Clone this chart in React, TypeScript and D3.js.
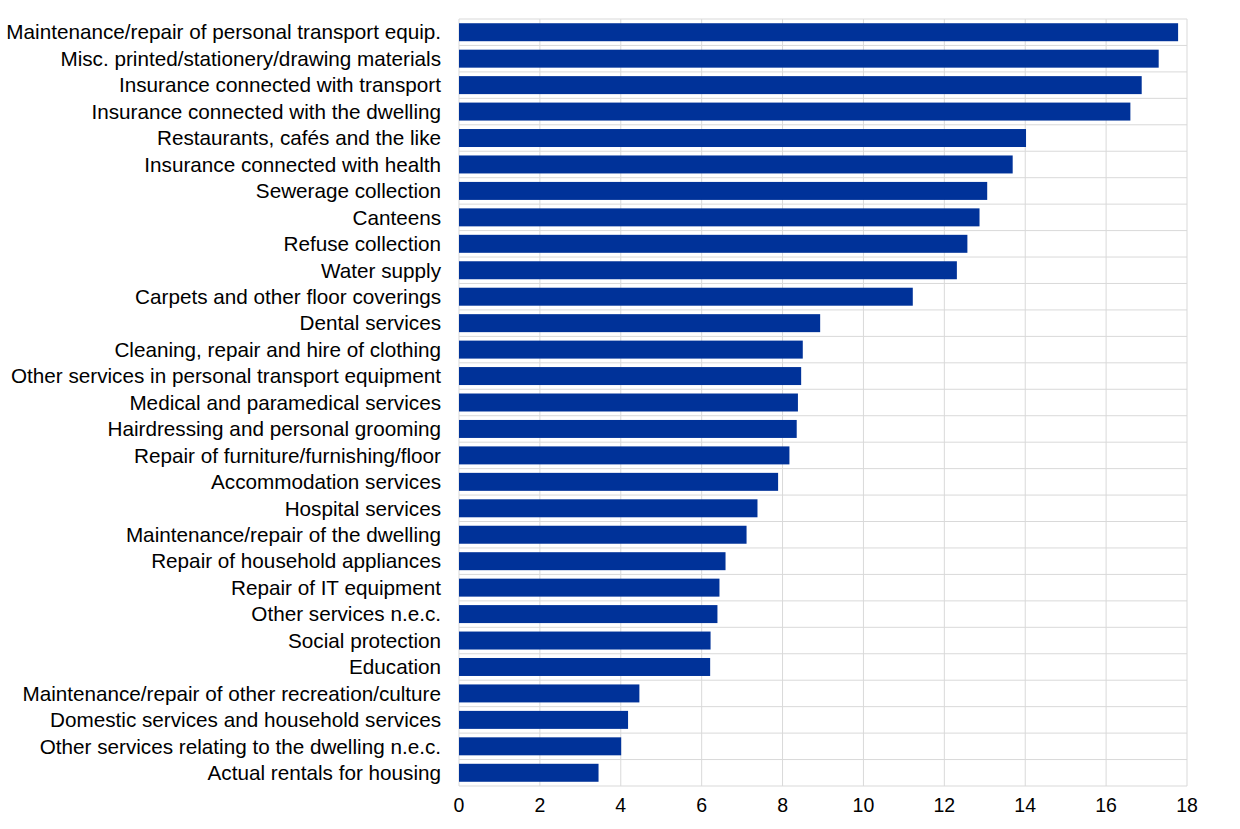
import React from "react";
import * as d3 from "d3";

const categories = [
  "Maintenance/repair of personal transport equip.",
  "Misc. printed/stationery/drawing materials",
  "Insurance connected with transport",
  "Insurance connected with the dwelling",
  "Restaurants, cafés and the like",
  "Insurance connected with health",
  "Sewerage collection",
  "Canteens",
  "Refuse collection",
  "Water supply",
  "Carpets and other floor coverings",
  "Dental services",
  "Cleaning, repair and hire of clothing",
  "Other services in personal transport equipment",
  "Medical and paramedical services",
  "Hairdressing and personal grooming",
  "Repair of furniture/furnishing/floor",
  "Accommodation services",
  "Hospital services",
  "Maintenance/repair of the dwelling",
  "Repair of household appliances",
  "Repair of IT equipment",
  "Other services n.e.c.",
  "Social protection",
  "Education",
  "Maintenance/repair of other recreation/culture",
  "Domestic services and household services",
  "Other services relating to the dwelling n.e.c.",
  "Actual rentals for housing",
];

const values = [
  17.78, 17.3, 16.88, 16.6, 14.02, 13.69, 13.06, 12.87, 12.57, 12.31, 11.22,
  8.93, 8.5, 8.46, 8.38, 8.35, 8.17, 7.89, 7.38, 7.11, 6.59, 6.44, 6.39, 6.22,
  6.21, 4.46, 4.18, 4.01, 3.45,
];

const xTicks = [0, 2, 4, 6, 8, 10, 12, 14, 16, 18];

const W = 1240;
const H = 829;
const left = 459;
const right = 1187;
const top = 19;
const bottom = 786;
const pad = 0.32;

export default function App() {
  const x = d3.scaleLinear().domain([0, 18]).range([left, right]);
  const y = d3
    .scaleBand<string>()
    .domain(categories)
    .range([top, bottom])
    .paddingInner(pad)
    .paddingOuter(pad / 2);
  const step = y.step();
  const boundaries = d3.range(categories.length + 1).map((i) => top + i * step);
  const font = "'Liberation Sans', Arial, sans-serif";
  const grid = "#d9d9d9";

  return (
    <svg
      width={W}
      height={H}
      style={{ position: "absolute", left: 0, top: 0, background: "#fff" }}
    >
      {xTicks.map((t) => (
        <line
          key={"v" + t}
          x1={x(t)}
          x2={x(t)}
          y1={top}
          y2={bottom}
          stroke={grid}
          strokeWidth={1}
        />
      ))}
      {boundaries.map((b, i) => (
        <line
          key={"h" + i}
          x1={left}
          x2={right}
          y1={b}
          y2={b}
          stroke={grid}
          strokeWidth={1}
        />
      ))}
      {categories.map((c, i) => (
        <rect
          key={c}
          x={x(0)}
          y={y(c)}
          width={x(values[i]) - x(0)}
          height={y.bandwidth()}
          fill="#003299"
        />
      ))}
      {categories.map((c) => (
        <text
          key={"l" + c}
          x={left - 18}
          y={(y(c) as number) + y.bandwidth() / 2}
          dy="0.35em"
          textAnchor="end"
          fontFamily={font}
          fontSize={20.7}
          fill="#000"
        >
          {c}
        </text>
      ))}
      {xTicks.map((t) => (
        <text
          key={"t" + t}
          x={x(t)}
          y={812}
          textAnchor="middle"
          fontFamily={font}
          fontSize={19.5}
          fill="#000"
        >
          {t}
        </text>
      ))}
    </svg>
  );
}
